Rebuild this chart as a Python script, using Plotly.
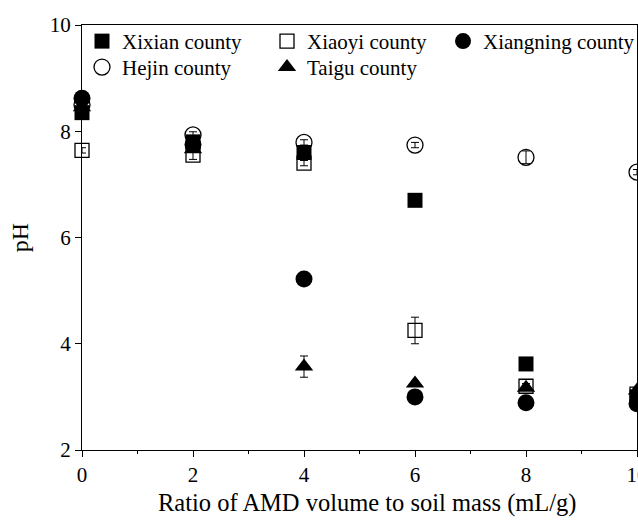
import plotly.graph_objects as go

ratio = [0, 2, 4, 6, 8, 10]

xixian = [8.35, 7.80, 7.60, 6.70, 3.62, 3.00]
xixian_err = [0.05, 0.05, 0.05, 0.05, 0.05, 0.05]
xiaoyi = [7.64, 7.55, 7.40, 4.25, 3.20, 3.05]
xiaoyi_err = [0.05, 0.08, 0.05, 0.25, 0.05, 0.05]
xiangning = [8.62, 7.75, 5.22, 3.00, 2.89, 2.87]
xiangning_err = [0.05, 0.05, 0.05, 0.05, 0.05, 0.05]
hejin = [8.50, 7.93, 7.79, 7.74, 7.51, 7.23]
hejin_err = [0.05, 0.06, 0.05, 0.05, 0.12, 0.05]
taigu = [8.45, 7.66, 3.57, 3.25, 3.17, 3.12]
taigu_err = [0.05, 0.05, 0.20, 0.05, 0.05, 0.05]

x_title = "Ratio of AMD volume to soil mass (mL/g)"
y_title = "pH"

FONT = "Liberation Serif"

def err(arr):
    return dict(type="data", array=arr, visible=True, color="black",
                thickness=1, width=4)

fig = go.Figure()

def open_series(y, e, name, symbol, size, legend, rank):
    fig.add_trace(go.Scatter(
        x=ratio, y=y, name=name, mode="markers", legend=legend, legendrank=rank,
        cliponaxis=False,
        marker=dict(symbol=symbol, size=size, color="white",
                    line=dict(color="black", width=1.3))))
    # error bars drawn on top of the open marker
    fig.add_trace(go.Scatter(
        x=ratio, y=y, mode="markers", showlegend=False, hoverinfo="skip",
        error_y=err(e), cliponaxis=False,
        marker=dict(size=1, color="rgba(0,0,0,0)")))

def filled_series(y, e, name, symbol, size, legend, rank):
    fig.add_trace(go.Scatter(
        x=ratio, y=y, name=name, mode="markers", legend=legend, legendrank=rank,
        error_y=err(e), cliponaxis=False,
        marker=dict(symbol=symbol, size=size, color="black",
                    line=dict(color="black", width=0))))

open_series(xiaoyi, xiaoyi_err, "Xiaoyi county", "square", 14, "legend", 2)
open_series(hejin, hejin_err, "Hejin county", "circle", 16, "legend2", 4)
filled_series(xixian, xixian_err, "Xixian county", "square", 15, "legend", 1)
filled_series(taigu, taigu_err, "Taigu county", "triangle-up", 16, "legend2", 5)
filled_series(xiangning, xiangning_err, "Xiangning county", "circle", 17, "legend3", 3)

leg_common = dict(orientation="h", xanchor="left", yanchor="top",
                  bgcolor="rgba(0,0,0,0)", font=dict(family=FONT, size=21),
                  entrywidth=140, entrywidthmode="pixels",
                  itemsizing="trace", tracegroupgap=0)

fig.update_layout(
    width=638, height=523,
    margin=dict(l=82, r=1, t=25, b=73, autoexpand=False),
    paper_bgcolor="white", plot_bgcolor="white",
    font=dict(family=FONT, size=21, color="black"),
    showlegend=True,
    legend=dict(x=0, y=1.0095, **leg_common),
    legend2=dict(x=0, y=0.9485, **leg_common),
    legend3=dict(x=0.6505, y=1.0095, orientation="h", xanchor="left", yanchor="top",
                 bgcolor="rgba(0,0,0,0)", font=dict(family=FONT, size=21),
                 itemsizing="trace"),
    xaxis=dict(range=[0, 10], tickvals=[0, 2, 4, 6, 8, 10],
               showline=True, linecolor="black", linewidth=1.3, mirror=True,
               ticks="outside", ticklen=6, tickwidth=1.3, tickcolor="black",
               ticklabeloverflow="allow", automargin=False,
               minor=dict(tickvals=[1, 3, 5, 7, 9], ticks="outside", ticklen=3,
                          tickwidth=1, tickcolor="black"),
               showgrid=False, zeroline=False,
               tickfont=dict(family=FONT, size=21)),
    yaxis=dict(range=[2, 10], tickvals=[2, 4, 6, 8, 10],
               showline=True, linecolor="black", linewidth=1.3, mirror=True,
               ticks="outside", ticklen=6, tickwidth=1.3, tickcolor="black",
               automargin=False,
               showgrid=False, zeroline=False,
               tickfont=dict(family=FONT, size=21),
               title=dict(text=y_title, font=dict(family=FONT, size=24), standoff=14)),
    annotations=[dict(text=x_title, xref="paper", yref="paper",
                      x=0.514, y=-0.1247, xanchor="center", yanchor="middle",
                      showarrow=False, font=dict(family=FONT, size=24.5))],
)

fig.write_html("out.html")
